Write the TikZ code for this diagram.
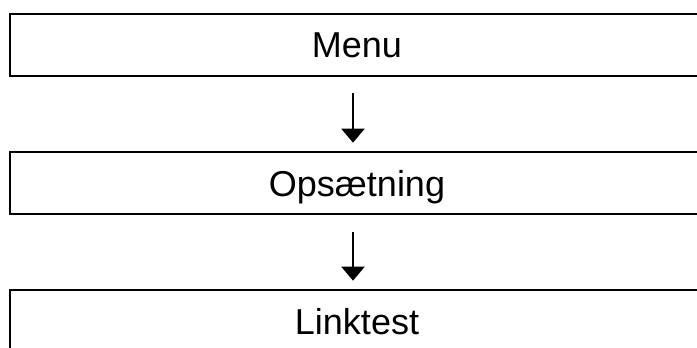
\documentclass[tikz,border=0pt]{standalone}
\usepackage{fontspec}
\setmainfont{Liberation Sans}
\usetikzlibrary{arrows.meta}
\begin{document}
\begin{tikzpicture}[x=1pt,y=-1pt,
  stepbox/.style={draw=black,line width=2pt,minimum width=694pt,minimum height=62pt,
    inner sep=0pt,text height=25.8pt,text depth=0pt,font=\fontsize{36pt}{40pt}\selectfont,fill=white},
  arr/.style={line width=2pt,-{Triangle[length=14pt,width=23pt]}}]
\useasboundingbox (0,0) rectangle (697,348);
\clip (0,0) rectangle (697,348);
\fill[white] (0,0) rectangle (697,348);
\node[stepbox] (menu) at (357,44.5) {Menu};
\node[stepbox] (ops) at (357,183.4) {Opsætning};
\node[stepbox] (link) at (357,321.4) {Linktest};
\draw[arr] ([xshift=-4pt,yshift=-16.5pt]menu.south) -- ([xshift=-4pt,yshift=8.7pt]ops.north);
\draw[arr] ([xshift=-4pt,yshift=-16.5pt]ops.south) -- ([xshift=-4pt,yshift=8.7pt]link.north);
\end{tikzpicture}
\end{document}
